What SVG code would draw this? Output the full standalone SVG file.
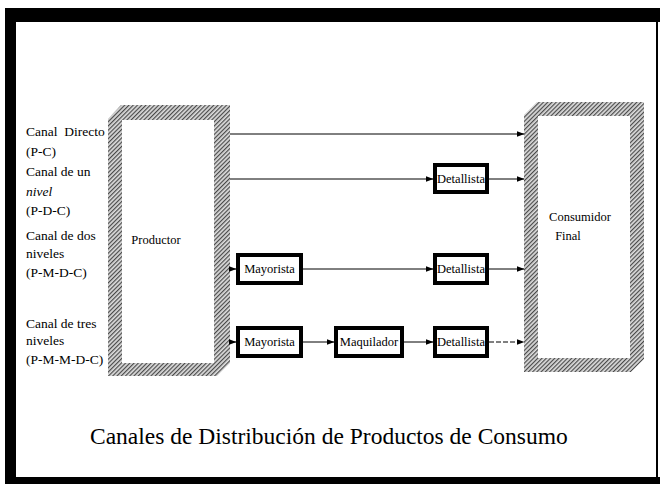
<svg xmlns="http://www.w3.org/2000/svg" width="660" height="484" viewBox="0 0 660 484">
<defs>
<pattern id="hatch" width="3" height="3" patternUnits="userSpaceOnUse" patternTransform="rotate(45)">
<rect width="3" height="3" fill="#dcdcdc"/>
<rect width="1.2" height="3" fill="#4a4a4a"/>
</pattern>
<marker id="arr" markerWidth="8" markerHeight="6" refX="7.5" refY="3" orient="auto" markerUnits="userSpaceOnUse">
<path d="M0,0 L8,3 L0,6 Z" fill="#000"/>
</marker>
<style>
text{font-family:'Liberation Serif','Tinos','Times New Roman','DejaVu Serif','Noto Serif',serif;fill:#000}
.lbl{font-size:13.5px}
.box{fill:#fff;stroke:#000;stroke-width:4}
.btx{font-size:12.5px;text-anchor:middle}
.con{stroke:#000;stroke-width:1;fill:none;marker-end:url(#arr)}
.frame{fill:url(#hatch)}
.inner{fill:#fff}
.title{font-size:23.5px}
</style>
</defs>
<rect width="660" height="484" fill="#fff"/>
<g id="border">
<rect x="5" y="10" width="11" height="474" fill="#000"/>
<rect x="5" y="8" width="655" height="14" fill="#000"/>
<rect x="5" y="477" width="655" height="7" fill="#000"/>
<rect x="656" y="20" width="2" height="460" fill="#000"/>
</g>
<g id="labels">
<text class="lbl" x="26" y="136" xml:space="preserve">Canal  Directo</text>
<text class="lbl" x="26" y="156">(P-C)</text>
<text class="lbl" x="26" y="176">Canal de un</text>
<text class="lbl" x="26" y="196" font-style="italic">nivel</text>
<text class="lbl" x="26" y="215">(P-D-C)</text>
<text class="lbl" x="26" y="240">Canal de dos</text>
<text class="lbl" x="26" y="258">niveles</text>
<text class="lbl" x="26" y="277">(P-M-D-C)</text>
<text class="lbl" x="26" y="328">Canal de tres</text>
<text class="lbl" x="26" y="345">niveles</text>
<text class="lbl" x="26" y="364">(P-M-M-D-C)</text>
</g>
<g id="productor">
<polygon class="frame" points="108,119 121,105 230,105 230,363 217,376 108,376"/>
<rect class="inner" x="122" y="120" width="92" height="243"/>
<text class="btx" x="156" y="244">Productor</text>
</g>
<g id="consumidor">
<polygon class="frame" points="524,115 537,102 644,102 644,359 631,372 524,372"/>
<rect class="inner" x="538" y="116" width="92" height="242"/>
<text class="btx" x="580" y="221">Consumidor</text>
<text class="btx" x="568" y="240">Final</text>
</g>
<g id="mayorista1">
<rect class="box" x="238" y="255" width="63" height="28"/>
<text class="btx" x="269.5" y="273">Mayorista</text>
</g>
<g id="mayorista2">
<rect class="box" x="238" y="328" width="63" height="28"/>
<text class="btx" x="269.5" y="346">Mayorista</text>
</g>
<g id="maquilador">
<rect class="box" x="336" y="328" width="66" height="28"/>
<text class="btx" x="369" y="346">Maquilador</text>
</g>
<g id="detallista1">
<rect class="box" x="435" y="165" width="52" height="27"/>
<text class="btx" x="461" y="183">Detallista</text>
</g>
<g id="detallista2">
<rect class="box" x="435" y="255" width="52" height="28"/>
<text class="btx" x="461" y="273">Detallista</text>
</g>
<g id="detallista3">
<rect class="box" x="435" y="328" width="52" height="28"/>
<text class="btx" x="461" y="346">Detallista</text>
</g>
<g id="connectors">
<line class="con" x1="230" y1="134" x2="524" y2="134"/>
<line class="con" x1="230" y1="179" x2="433" y2="179"/>
<line class="con" x1="489" y1="179" x2="524" y2="179"/>
<line class="con" x1="230" y1="269" x2="236" y2="269"/>
<line class="con" x1="303" y1="269" x2="433" y2="269"/>
<line class="con" x1="489" y1="269" x2="524" y2="269"/>
<line class="con" x1="230" y1="342" x2="236" y2="342"/>
<line class="con" x1="303" y1="342" x2="334" y2="342"/>
<line class="con" x1="404" y1="342" x2="433" y2="342"/>
<line class="con" x1="489" y1="342" x2="524" y2="342" stroke-dasharray="5,2"/>
</g>
<text class="title" x="90" y="444">Canales de Distribución de Productos de Consumo</text>
</svg>
